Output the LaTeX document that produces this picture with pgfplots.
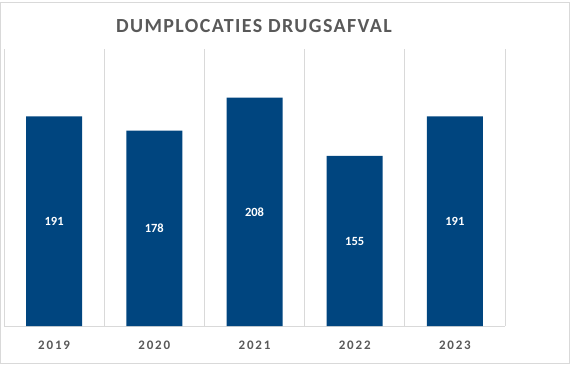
\documentclass[border=0pt]{standalone}
\usepackage{pgfplots}
\pgfplotsset{compat=1.18}
\usepackage{fontspec}
\setmainfont{Carlito}
\newfontfamily\spaced[LetterSpace=7]{Carlito}
\newfontfamily\spacedx[LetterSpace=14]{Carlito}
\definecolor{barblue}{HTML}{00457F}
\definecolor{txtgray}{HTML}{595959}
\definecolor{gridgray}{HTML}{D9D9D9}
\begin{document}
\begin{tikzpicture}[x=1pt,y=1pt]
\useasboundingbox (0,0) rectangle (574,368);
\draw[gridgray, line width=1pt] (0.5,366) rectangle (569,5);
\node[font=\spaced\bfseries\fontsize{20}{24}\selectfont, text=txtgray] at (254,342) {DUMPLOCATIES DRUGSAFVAL};
\begin{axis}[
  at={(4,38)}, anchor=south west,
  scale only axis, width=501pt, height=277pt,
  xmin=-0.5, xmax=4.5, ymin=0, ymax=252,
  axis x line*=bottom, axis y line=none,
  x axis line style={gridgray, line width=1pt, -},
  xtick={0,1,2,3,4},
  xticklabels={2019,2020,2021,2022,2023},
  major tick length=0pt,
  minor xtick={-0.5,0.5,1.5,2.5,3.5,4.5},
  minor tick length=0pt,
  xminorgrids=true,
  minor grid style={gridgray, line width=0.8pt},
  ytick=\empty,
  /pgf/number format/assume math mode=true,
  xticklabel style={font=\spacedx\bfseries\fontsize{13}{15}\selectfont, text=txtgray, yshift=-11pt},
  clip=false,
]
\addplot[ybar, bar width=56pt, fill=barblue, draw=none,
  visualization depends on=y \as \rawy,
  nodes near coords,
  nodes near coords style={font=\bfseries\fontsize{12.5}{14}\selectfont, text=white, anchor=center, shift={(axis direction cs:0,-\rawy/2)}},
] coordinates {(0,191) (1,178) (2,208) (3,155) (4,191)};
\end{axis}
\end{tikzpicture}
\end{document}
